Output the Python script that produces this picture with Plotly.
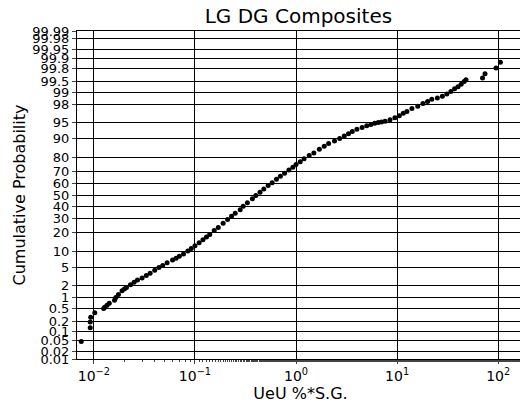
import plotly.graph_objects as go
from statistics import NormalDist

# values: UeU %*S.G. and cumulative probability (%)
uev = [0.0075, 0.0092, 0.0092, 0.0093, 0.0102, 0.0125, 0.0128, 0.0135, 0.0142, 0.016, 0.0165,
       0.0175, 0.019, 0.02, 0.021, 0.023, 0.025, 0.027, 0.03, 0.033, 0.036, 0.04, 0.044,
       0.048, 0.053, 0.06, 0.065, 0.07, 0.077, 0.085, 0.092, 0.1, 0.11, 0.12, 0.13, 0.14,
       0.155, 0.17, 0.19, 0.21, 0.23, 0.25, 0.28, 0.3, 0.33, 0.37, 0.4, 0.44, 0.48, 0.53,
       0.58, 0.64, 0.7, 0.77, 0.85, 0.93, 1.0, 1.1, 1.2, 1.35, 1.5, 1.7, 1.9, 2.1, 2.4,
       2.7, 3.0, 3.3, 3.6, 4.0, 4.5, 5.0, 5.5, 6.0, 6.5, 7.0, 7.6, 8.5, 9.5, 10.5, 11.5,
       12.5, 14, 16, 18, 20, 22, 25, 28, 31, 34, 37, 40, 43, 46, 48, 70, 74, 95, 105, 178]
cum_prob = [0.045, 0.13, 0.2, 0.28, 0.38, 0.5, 0.55, 0.62, 0.7, 0.85, 1.0,
            1.2, 1.5, 1.65, 1.8, 2.1, 2.4, 2.7, 3.0, 3.4, 3.8, 4.4, 5.0,
            5.5, 6.2, 7.0, 7.6, 8.2, 9.0, 10.2, 11.2, 12.5, 14, 15.5, 17, 18.5,
            21, 23, 26, 29, 31.5, 34, 37, 40, 43, 46.5, 49.5, 52.5, 55.5, 58.5,
            61, 64, 66.5, 69, 71.5, 73.5, 75.5, 77.5, 79.5, 81.5, 83, 85, 86.5, 87.8, 89,
            90, 91, 91.8, 92.5, 93.2, 93.7, 94.2, 94.5, 94.8, 95.0, 95.1, 95.3, 95.6, 96.0, 96.4, 96.8,
            97.1, 97.5, 97.8, 98.1, 98.3, 98.5, 98.6, 98.75, 98.9, 99.05, 99.2, 99.3, 99.4, 99.5, 99.55,
            99.6, 99.7, 99.8, 99.87, 99.94]

prob_ticks = [0.01, 0.02, 0.05, 0.1, 0.2, 0.5, 1, 2, 5, 10, 20, 30, 40, 50, 60, 70, 80,
              90, 95, 98, 99, 99.5, 99.8, 99.9, 99.95, 99.98, 99.99]
x_ticks = [0.01, 0.1, 1, 10, 100]
x_labels = ["10<sup>−2</sup>", "10<sup>−1</sup>", "10<sup>0</sup>", "10<sup>1</sup>", "10<sup>2</sup>"]

nd = NormalDist()
z = lambda p: nd.inv_cdf(p / 100.0)

fig = go.Figure()
fig.add_scatter(x=uev, y=[z(p) for p in cum_prob], mode="markers", cliponaxis=True,
                marker=dict(color="black", size=5), hoverinfo="x+y")

fig.update_layout(
    width=528, height=402,
    margin=dict(l=69, r=11, t=23, b=45),
    plot_bgcolor="white", paper_bgcolor="white",
    showlegend=False,
    font=dict(family="DejaVu Sans", color="black", size=13),
    title=dict(text="LG DG Composites", x=0.55, xanchor="center", y=0.998, yanchor="top",
               font=dict(size=20)),
    xaxis=dict(type="log", range=[-2.167, 2.255], tickvals=x_ticks, ticktext=x_labels,
               showgrid=True, gridcolor="black", gridwidth=1, ticks="outside", ticklen=4,
               minor=dict(ticks="outside", ticklen=2, showgrid=False),
               showline=True, linecolor="black", mirror=True, zeroline=False,
               title=dict(text="UeU %*S.G.", font=dict(size=16), standoff=4),
               tickfont=dict(size=14)),
    yaxis=dict(range=[z(0.01), z(99.99)], tickvals=[z(p) for p in prob_ticks],
               ticktext=[f"{p:g}" for p in prob_ticks],
               showgrid=True, gridcolor="black", gridwidth=1, ticks="outside", ticklen=4,
               showline=True, linecolor="black", mirror=True, zeroline=False,
               title=dict(text="Cumulative Probability", font=dict(size=16), standoff=2),
               tickfont=dict(size=13)),
)
fig.write_html("out.html")
